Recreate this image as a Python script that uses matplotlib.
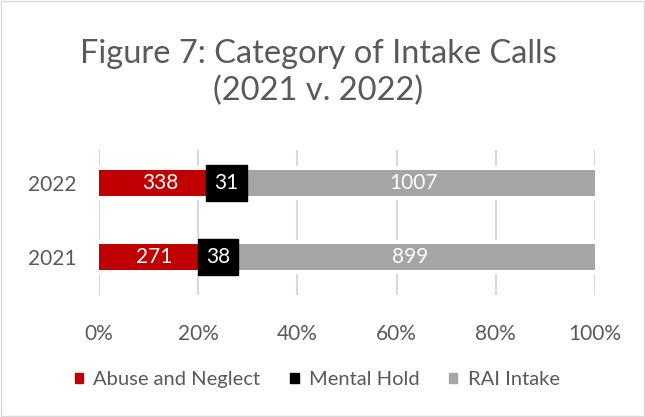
import matplotlib
matplotlib.use("Agg")
import matplotlib.pyplot as plt
from matplotlib.patches import Patch
import numpy as np

years = ["2021", "2022"]
abuse = [271, 338]
mental = [38, 31]
rai = [899, 1007]
series_names = ["Abuse and Neglect", "Mental Hold", "RAI Intake"]
colors = ["#C00000", "#000000", "#A5A5A5"]
xticks = [0, 0.2, 0.4, 0.6, 0.8, 1.0]
xticklabels = ["0%", "20%", "40%", "60%", "80%", "100%"]

plt.rcParams['font.family'] = ['Lato', 'DejaVu Sans']
textgray = "#595959"

fig = plt.figure(figsize=(6.45, 4.17), dpi=100)
ax = fig.add_axes([0.1535, 0.2926, 0.769, 0.3474])

vals = np.array([abuse, mental, rai], dtype=float)
tot = vals.sum(axis=0)
shares = vals / tot
ypos = np.arange(len(years))
bh = 0.35

# white band behind bars to interrupt gridlines
ax.barh(ypos, shares.sum(axis=0), height=bh + 0.12, color="white", zorder=1.5)

left = np.zeros(len(years))
for i, (name, c) in enumerate(zip(series_names, colors)):
    ax.barh(ypos, shares[i], left=left, height=bh, color=c, label=name, zorder=2)
    for j in range(len(years)):
        cx = left[j] + shares[i][j] / 2
        if c == "#000000":
            ax.text(cx, ypos[j], f"{int(vals[i][j])}", color="white", ha="center", va="center",
                    fontsize=15, zorder=4,
                    bbox=dict(boxstyle="square,pad=0.4", fc="black", ec="black"))
        else:
            ax.text(cx, ypos[j], f"{int(vals[i][j])}", color="white", ha="center", va="center",
                    fontsize=15, zorder=3)
    left = left + shares[i]

ax.set_xlim(0, 1.0)
ax.set_ylim(-0.5135, 1.446)
ax.set_xticks(xticks)
ax.set_xticklabels(xticklabels)
ax.set_yticks(ypos)
ax.set_yticklabels(years)
ax.tick_params(axis="both", length=0, colors=textgray, labelsize=15)
ax.tick_params(axis="x", pad=21)
ax.tick_params(axis="y", pad=16)
ax.grid(axis="x", color="#D9D9D9", linewidth=1.5, zorder=0)
ax.set_axisbelow(True)
for s in ax.spines.values():
    s.set_visible(False)

fig.text(0.493, 0.826, "Figure 7: Category of Intake Calls\n(2021 v. 2022)", ha="center", va="center",
         fontsize=23.5, color=textgray, linespacing=1.3)

handles = [Patch(facecolor=c, edgecolor=c) for c in colors]
fig.legend(handles, series_names, loc="center", bbox_to_anchor=(0.492, 0.089), ncol=3, frameon=False,
           fontsize=14.5, handlelength=0.4, handleheight=0.4, handletextpad=0.5, columnspacing=1.5,
           labelcolor=textgray)

border = plt.Rectangle((0.002, 0.002), 0.996, 0.996, transform=fig.transFigure, fill=False,
                       edgecolor="#D9D9D9", linewidth=1)
fig.patches.append(border)

fig.savefig("out.png", dpi=100)
